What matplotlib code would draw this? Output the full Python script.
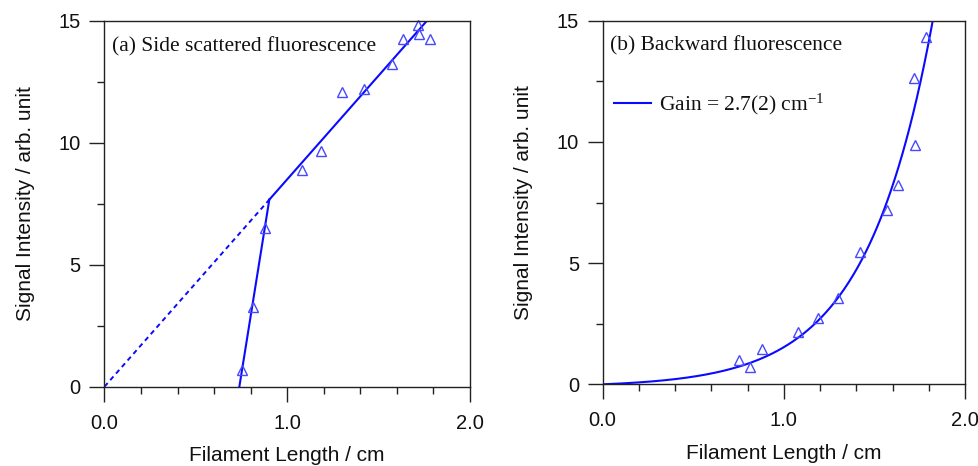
import numpy as np
import matplotlib
matplotlib.use("Agg")
import matplotlib.pyplot as plt
from matplotlib.ticker import MultipleLocator, FixedLocator

# ---- data ----
side_x = [0.753, 0.811, 0.881, 1.079, 1.185, 1.298, 1.420, 1.572, 1.634, 1.717, 1.723, 1.783]
side_y = [0.68, 3.27, 6.51, 8.87, 9.66, 12.07, 12.21, 13.23, 14.23, 14.84, 14.46, 14.23]

# piecewise fits for panel (a)
steep_fit_x = [0.738, 0.902]
steep_fit_y = [0.0, 7.67]
linear_slope = 8.50          # line through origin
break_x = 0.902
linear_end_x = 1.80

back_x = [0.751, 0.811, 0.881, 1.080, 1.187, 1.299, 1.420, 1.568, 1.632, 1.718, 1.724, 1.783]
back_y = [1.00, 0.73, 1.47, 2.17, 2.75, 3.58, 5.47, 7.17, 8.21, 12.63, 9.88, 14.31]

gain = 2.7          # cm^-1
amp = 0.1104        # fit amplitude

xticks = [0.0, 1.0, 2.0]
xticklabels = ["0.0", "1.0", "2.0"]
yticks = [0, 5, 10, 15]
yticklabels = ["0", "5", "10", "15"]

line_color = "#0a0aff"
marker_color = "#4848ff"
spine_color = "#222222"

plt.rcParams['mathtext.fontset'] = 'custom'
plt.rcParams['mathtext.rm'] = 'Liberation Serif'
plt.rcParams['mathtext.it'] = 'Liberation Serif:italic'

fig = plt.figure(figsize=(9.79, 4.66), dpi=100)
axA = fig.add_axes([0.1067, 0.1702, 0.3734, 0.7854])
axB = fig.add_axes([0.6156, 0.1753, 0.3701, 0.7803])

sans = 'Liberation Sans'
serif = 'Liberation Serif'

def style(ax):
    ax.set_xlim(0, 2)
    ax.set_ylim(0, 15)
    ax.xaxis.set_major_locator(FixedLocator(xticks))
    ax.set_xticklabels(xticklabels)
    ax.yaxis.set_major_locator(FixedLocator(yticks))
    ax.set_yticklabels(yticklabels)
    ax.xaxis.set_minor_locator(MultipleLocator(0.2))
    ax.yaxis.set_minor_locator(MultipleLocator(2.5))
    ax.tick_params(which='both', direction='out', color=spine_color, width=1.0,
                   top=False, right=False)
    ax.tick_params(which='major', length=11)
    ax.tick_params(which='minor', length=5)
    ax.tick_params(axis='x', which='major', pad=8.5)
    ax.tick_params(axis='y', which='major', pad=6)
    for lab in ax.get_xticklabels() + ax.get_yticklabels():
        lab.set_fontfamily(sans)
        lab.set_fontsize(14.5)
        lab.set_color('#111111')
    for s in ax.spines.values():
        s.set_color(spine_color)
        s.set_linewidth(1.0)
    ax.set_xlabel("Filament Length / cm", fontfamily=sans, fontsize=15, labelpad=9.5, color='#111111')
    ax.set_ylabel("Signal Intensity / arb. unit", fontfamily=sans, fontsize=15, labelpad=17, color='#111111')

style(axA)
style(axB)

# panel (a)
axA.plot(steep_fit_x, steep_fit_y, color=line_color, lw=1.5)
axA.plot([break_x, linear_end_x], [linear_slope * break_x, linear_slope * linear_end_x],
         color=line_color, lw=1.5)
axA.plot([0, break_x], [0, linear_slope * break_x], color=line_color, lw=1.4,
         linestyle=(0, (2.5, 2.0)))
axA.plot(side_x, side_y, linestyle='none', marker='^', ms=7.5, mfc='none',
         mec=marker_color, mew=1.0, clip_on=False)
axA.text(0.02, 0.93, "(a) Side scattered fluorescence", transform=axA.transAxes,
         fontfamily=serif, fontsize=15.5, va='center', ha='left', color='#111111')

# panel (b)
xx = np.linspace(0, 2, 400)
axB.plot(xx, amp * (np.exp(gain * xx) - 1), color=line_color, lw=1.5,
         label="Gain = 2.7(2) cm$^{\\mathrm{-1}}$")
axB.plot(back_x, back_y, linestyle='none', marker='^', ms=7.5, mfc='none',
         mec=marker_color, mew=1.0, clip_on=False)
axB.text(0.02, 0.93, "(b) Backward fluorescence", transform=axB.transAxes,
         fontfamily=serif, fontsize=15.5, va='center', ha='left', color='#111111')
leg = axB.legend(loc='upper left', bbox_to_anchor=(-0.01, 0.846), frameon=False,
                 prop={'family': serif, 'size': 15.5}, handlelength=1.7,
                 handletextpad=0.4, borderaxespad=0.3)
for t in leg.get_texts():
    t.set_color('#111111')

fig.savefig("out.png", dpi=100)
